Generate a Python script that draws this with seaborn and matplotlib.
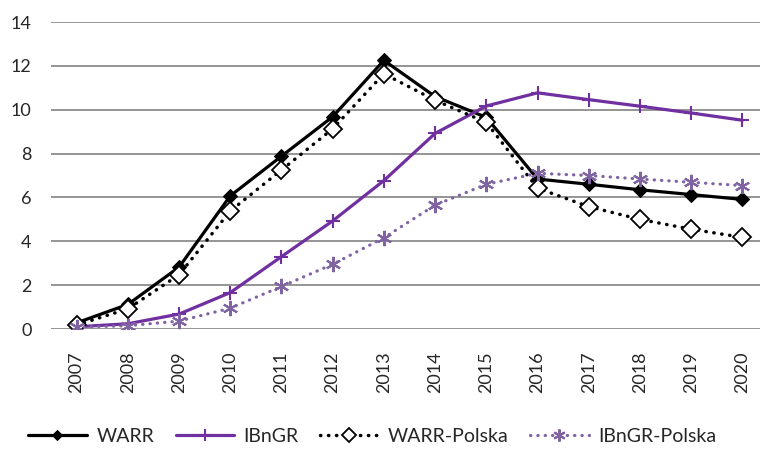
import numpy as np
import matplotlib.pyplot as plt
import pandas as pd
import seaborn as sns

# Data
years = list(range(2007, 2021))
warr = [0.28, 1.12, 2.82, 6.07, 7.88, 9.68, 12.25, 10.6, 9.65, 6.84, 6.6, 6.35, 6.13, 5.91]
ibngr = [0.1, 0.24, 0.68, 1.66, 3.3, 4.93, 6.77, 8.92, 10.17, 10.77, 10.46, 10.16, 9.85, 9.52]
warr_pl = [0.18, 0.92, 2.47, 5.38, 7.25, 9.13, 11.64, 10.43, 9.42, 6.42, 5.58, 5.0, 4.55, 4.18]
ibngr_pl = [0.08, 0.15, 0.36, 0.95, 1.94, 2.95, 4.16, 5.65, 6.6, 7.1, 7.0, 6.84, 6.69, 6.54]

df = pd.DataFrame({'year': [str(y) for y in years],
                   'WARR': warr, 'IBnGR': ibngr,
                   'WARR-Polska': warr_pl, 'IBnGR-Polska': ibngr_pl})

sns.set_style('white')
plt.rcParams['font.family'] = ['Lato', 'DejaVu Sans']

fig = plt.figure(figsize=(7.6, 4.5), dpi=100)
ax = fig.add_axes([51 / 760, 1 - 329 / 450, 717 / 760, 307 / 450])

purple = '#7030A0'
light_purple = '#8064A2'
dots = (0, (0.1, 2.2))

sns.lineplot(data=df, x='year', y='WARR', ax=ax, color='black', lw=2.3,
             marker='D', markersize=7, markeredgecolor='black', label='WARR', sort=False)
sns.lineplot(data=df, x='year', y='IBnGR', ax=ax, color=purple, lw=2.3,
             marker='+', markersize=10, markeredgewidth=1.5, markeredgecolor=purple,
             label='IBnGR', sort=False)
sns.lineplot(data=df, x='year', y='WARR-Polska', ax=ax, color='black', lw=2.5,
             linestyle=dots, marker='D', markersize=9,
             markerfacecolor='white', markeredgecolor='black', markeredgewidth=1.3,
             label='WARR-Polska', sort=False)
sns.lineplot(data=df, x='year', y='IBnGR-Polska', ax=ax, color=light_purple, lw=2.3,
             linestyle=dots, marker=(6, 2, 0), markersize=11,
             markeredgewidth=1.5, markeredgecolor=light_purple,
             label='IBnGR-Polska', sort=False)

# round dots for the dotted series
for line in ax.get_lines()[2:]:
    line.set_dash_capstyle('round')

ax.set_xlim(-0.5, 13.5)
ax.set_ylim(0, 14)
ax.set_yticks(np.arange(0, 15, 2))
ax.yaxis.grid(True, color='#8c8c8c', lw=1.3)
ax.set_axisbelow(True)
for s in ax.spines.values():
    s.set_visible(False)
ax.tick_params(axis='x', rotation=90, labelsize=13, length=0, pad=16)
ax.tick_params(axis='y', labelsize=13, length=0, pad=14)
ax.set_xlabel('')
ax.set_ylabel('')

ax.get_legend().remove()
handles, labels = ax.get_legend_handles_labels()
leg = fig.legend(handles, labels, loc='center', bbox_to_anchor=(0.49, 0.03), ncol=4,
                 frameon=False, fontsize=14, handlelength=3.0, columnspacing=1.1,
                 handletextpad=0.5, markerscale=0.8)

fig.savefig('out.png', dpi=100)
